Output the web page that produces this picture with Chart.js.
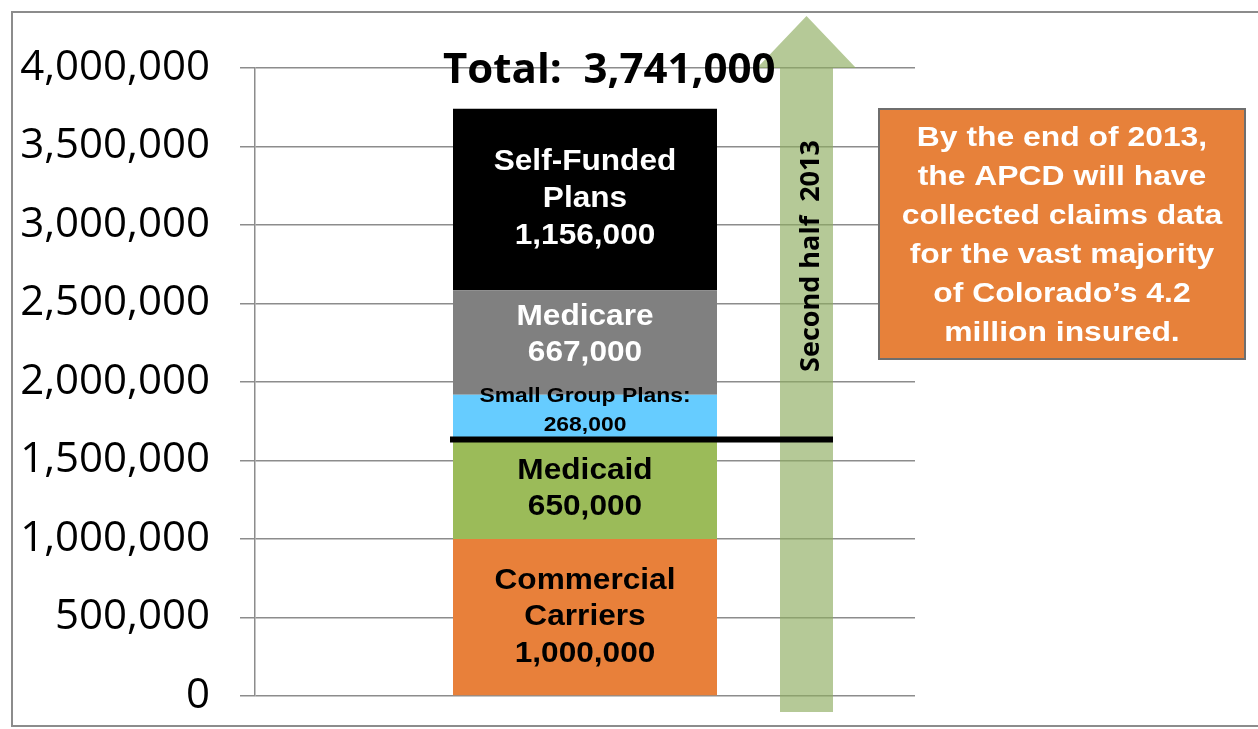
<!DOCTYPE html>
<html>
<head>
<meta charset="utf-8">
<title>Colorado APCD coverage</title>
<script src="https://cdn.jsdelivr.net/npm/chart.js@4/dist/chart.umd.min.js"></script>
<style>
  html, body { margin: 0; padding: 0; background: #fff; }
  #wrap { width: 1258px; height: 729px; }
</style>
</head>
<body>
<div id="wrap"><canvas id="myChart" width="1258" height="729"></canvas></div>
<script>
// data
var categories = ['Colorado insured'];
var seriesNames = ['Commercial Carriers', 'Medicaid', 'Small Group Plans', 'Medicare', 'Self-Funded Plans'];
var seriesValues = [1000000, 650000, 268000, 667000, 1156000];
var segmentLabels = [
	['Commercial', 'Carriers', '1,000,000'],
	['Medicaid', '650,000'],
	['Small Group Plans:', '268,000'],
	['Medicare', '667,000'],
	['Self-Funded', 'Plans', '1,156,000']
];
var yTicks = [0, 500000, 1000000, 1500000, 2000000, 2500000, 3000000, 3500000, 4000000];
var arrowText = 'Second half  2013';
var noteLines = ['By the end of 2013,', 'the APCD will have', 'collected claims data',
	'for the vast majority', 'of Colorado\u2019s 4.2', 'million insured.'];

// looks
var barColors = ['#E8803A', '#9BBB59', '#66CCFF', '#808080', '#000000'];
var textColors = ['#000', '#000', '#000', '#fff', '#fff'];
var labelSize = [29, 29, 21, 29, 29];
var labelLineH = [36.5, 36, 29, 36, 37];
var labelShift = [0, 1, -5.5, -8, 0];

function fmt(n) {
	return n.toString().replace(/\B(?=(\d{3})+(?!\d))/g, ',');
}

// draw text squeezed/stretched sideways (source fonts are wider than Arial)
function stretchText(ctx, text, x, y, sx) {
	ctx.save();
	ctx.translate(x, y);
	ctx.scale(sx, 1);
	ctx.fillText(text, 0, 0);
	ctx.restore();
}

var overlay = {
	id: 'overlay',
	afterDatasetsDraw: function (chart) {
		var ctx = chart.ctx;
		ctx.save();
		ctx.textAlign = 'center';
		ctx.textBaseline = 'middle';
		chart.data.datasets.forEach(function (ds, i) {
			var bar = chart.getDatasetMeta(i).data[0];
			var mid = (bar.y + bar.base) / 2 + labelShift[i];
			var lines = segmentLabels[i];
			ctx.font = 'bold ' + labelSize[i] + 'px "Liberation Sans", Arial, sans-serif';
			ctx.fillStyle = textColors[i];
			lines.forEach(function (t, k) {
				stretchText(ctx, t, bar.x, mid + (k - (lines.length - 1) / 2) * labelLineH[i], 1.09);
			});
		});
		ctx.restore();
	},
	afterDraw: function (chart) {
		var ctx = chart.ctx;
		var y = chart.scales.y;
		var bar0 = chart.getDatasetMeta(0).data[0];
		ctx.save();

		// outer frame (open on the right)
		ctx.strokeStyle = '#8c8c8c';
		ctx.lineWidth = 2;
		ctx.beginPath();
		ctx.moveTo(1258, 12); ctx.lineTo(12, 12); ctx.lineTo(12, 726); ctx.lineTo(1258, 726);
		ctx.stroke();

		// green arrow
		var ax = 806.5, top = 16, headY = y.getPixelForValue(4000000), bottom = 712;
		ctx.fillStyle = 'rgba(141,172,96,0.65)';
		ctx.beginPath();
		ctx.moveTo(ax, top);
		ctx.lineTo(ax + 49.5, headY);
		ctx.lineTo(ax + 26.5, headY);
		ctx.lineTo(ax + 26.5, bottom);
		ctx.lineTo(ax - 26.5, bottom);
		ctx.lineTo(ax - 26.5, headY);
		ctx.lineTo(ax - 49.5, headY);
		ctx.closePath();
		ctx.fill();

		ctx.save();
		ctx.translate(811, 256);
		ctx.rotate(-Math.PI / 2);
		ctx.fillStyle = '#000';
		ctx.font = 'bold 27px "Open Sans", sans-serif';
		ctx.textAlign = 'center';
		ctx.textBaseline = 'middle';
		ctx.fillText(arrowText, 0, 0);
		ctx.restore();

		// black divider at top of Medicaid
		var lineY = y.getPixelForValue(seriesValues[0] + seriesValues[1]) + 2.5;
		ctx.strokeStyle = '#000';
		ctx.lineWidth = 6;
		ctx.beginPath();
		ctx.moveTo(bar0.x - bar0.width / 2 - 3, lineY);
		ctx.lineTo(ax + 26.5, lineY);
		ctx.stroke();

		// total
		var total = seriesValues.reduce(function (s, v) { return s + v; }, 0);
		ctx.fillStyle = '#000';
		ctx.font = 'bold 42px "Open Sans", sans-serif';
		ctx.textAlign = 'left';
		ctx.textBaseline = 'alphabetic';
		ctx.fillText('Total:  ' + fmt(total), 443, 83);

		// orange note box
		ctx.fillStyle = '#E7813A';
		ctx.fillRect(879, 109, 366, 250);
		ctx.strokeStyle = '#6e6e6e';
		ctx.lineWidth = 2;
		ctx.strokeRect(879, 109, 366, 250);
		ctx.fillStyle = '#fff';
		ctx.font = 'bold 27px "Liberation Sans", Arial, sans-serif';
		ctx.textAlign = 'center';
		ctx.textBaseline = 'middle';
		noteLines.forEach(function (t, k) {
			stretchText(ctx, t, 1062, 139 + k * 39, 1.18);
		});

		ctx.restore();
	}
};

var ctx = document.getElementById('myChart').getContext('2d');
var chart = new Chart(ctx, {
	type: 'bar',
	data: {
		labels: categories,
		datasets: seriesNames.map(function (name, i) {
			return {
				label: name,
				data: [seriesValues[i]],
				backgroundColor: barColors[i],
				borderWidth: 0,
				barPercentage: 0.4,
				categoryPercentage: 1.0
			};
		})
	},
	options: {
		responsive: false,
		animation: false,
		layout: { padding: { left: 0, right: 343, top: 68, bottom: 33 } },
		plugins: {
			legend: { display: false },
			tooltip: { enabled: false }
		},
		scales: {
			x: { stacked: true, display: false },
			y: {
				stacked: true,
				min: 0,
				max: 4000000,
				afterBuildTicks: function (scale) {
					scale.ticks = yTicks.map(function (v) { return { value: v }; });
				},
				afterFit: function (scale) {
					scale.width = 255;
					scale.paddingTop = 0;
					scale.paddingBottom = 0;
				},
				border: { color: '#8c8c8c', width: 1.5 },
				grid: { color: '#8c8c8c', lineWidth: 1.5, tickLength: 15, tickColor: '#8c8c8c' },
				ticks: {
					padding: 30,
					color: '#000',
					font: { family: '"Open Sans", sans-serif', size: 42 },
					callback: function (v) { return fmt(v); }
				}
			}
		}
	},
	plugins: [overlay]
});
</script>
</body>
</html>
